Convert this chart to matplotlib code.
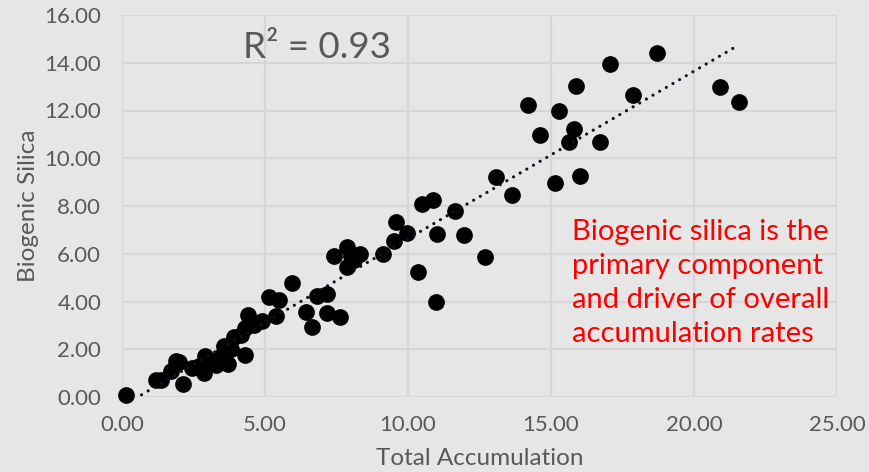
import matplotlib
matplotlib.use("Agg")
import matplotlib.pyplot as plt
import numpy as np

total_accumulation = [
    0.15, 1.20, 1.35, 1.72, 1.90, 2.00, 2.15, 2.45, 2.70, 2.85, 2.90, 3.20, 3.30, 3.45,
    3.55, 3.70, 3.80, 3.90, 4.15, 4.30, 4.30, 4.42, 4.60, 4.90, 5.15, 5.40, 5.50, 5.93,
    6.42, 6.65, 6.82, 7.16, 7.18, 7.62, 7.40, 7.86, 7.86, 8.10, 8.32, 8.00, 9.14, 9.50,
    9.57, 9.95, 10.36, 10.50, 10.87, 10.97, 11.02, 11.66, 11.97, 12.69, 13.07, 13.62,
    14.18, 14.62, 15.15, 15.28, 15.63, 15.82, 15.86, 16.01, 16.71, 17.06, 17.88, 18.70,
    20.91, 21.57,
]
biogenic_silica = [
    0.08, 0.70, 0.72, 1.10, 1.50, 1.45, 0.55, 1.20, 1.30, 1.00, 1.70, 1.50, 1.35, 1.70,
    2.15, 1.40, 2.00, 2.50, 2.60, 1.75, 2.90, 3.45, 3.00, 3.20, 4.20, 3.38, 4.06, 4.78,
    3.58, 2.94, 4.21, 4.30, 3.50, 3.33, 5.92, 6.28, 5.45, 5.72, 6.00, 5.90, 6.00, 6.54,
    7.34, 6.88, 5.24, 8.08, 8.24, 3.98, 6.82, 7.80, 6.80, 5.85, 9.22, 8.47,
    12.25, 10.96, 8.95, 11.97, 10.66, 11.21, 13.01, 9.26, 10.68, 13.96, 12.67, 14.41,
    12.98, 12.36,
]
x_ticks = [0, 5, 10, 15, 20, 25]
y_ticks = [0, 2, 4, 6, 8, 10, 12, 14, 16]
r2_label = "R² = 0.93"
note_label = "Biogenic silica is the\nprimary component\nand driver of overall\naccumulation rates"

plt.rcParams['font.family'] = ['Lato', 'DejaVu Sans']
bg = '#E7E6E6'
fig = plt.figure(figsize=(8.69, 4.72), dpi=100, facecolor=bg)
ax = fig.add_axes([122/869, 1 - 397/472, (837-122)/869, (397-15)/472], facecolor=bg)

x = np.array(total_accumulation)
y = np.array(biogenic_silica)
ax.scatter(x, y, s=145, color='black', zorder=3, clip_on=False, linewidths=0)

slope, intercept = np.polyfit(x, y, 1)
xf = np.array([x.min() + 0.3, x.max() - 0.2])
ax.plot(xf, slope * xf + intercept, linestyle=(0, (0.01, 2.4)), color='#101020',
        linewidth=2.3, dash_capstyle='round', solid_capstyle='round', zorder=4)

ax.set_xlim(0, 25)
ax.set_ylim(0, 16)
ax.set_xticks(x_ticks)
ax.set_yticks(y_ticks)
ax.set_xticklabels([f"{v:.2f}" for v in x_ticks])
ax.set_yticklabels([f"{v:.2f}" for v in y_ticks])
ax.grid(True, color='#D6D6D6', linewidth=1.6, zorder=0)
ax.set_axisbelow(True)
for sp in ax.spines.values():
    sp.set_visible(False)
ax.tick_params(axis='both', length=0, labelsize=16, labelcolor='#595959')
ax.tick_params(axis='x', pad=13)
ax.tick_params(axis='y', pad=15)
ax.set_xlabel("Total Accumulation", fontsize=17.5, color='#595959', labelpad=9)
ax.set_ylabel("Biogenic Silica", fontsize=17.5, color='#595959', labelpad=4)

fig.text(243/869, 1 - 48/472, r2_label, fontsize=26.5, color='#595959', va='center', ha='left')
fig.text(572/869, 1 - 283/472, note_label, fontsize=21, color='#FF0000', va='center', ha='left',
         linespacing=1.38)

fig.savefig("out.png", dpi=100, facecolor=bg)
